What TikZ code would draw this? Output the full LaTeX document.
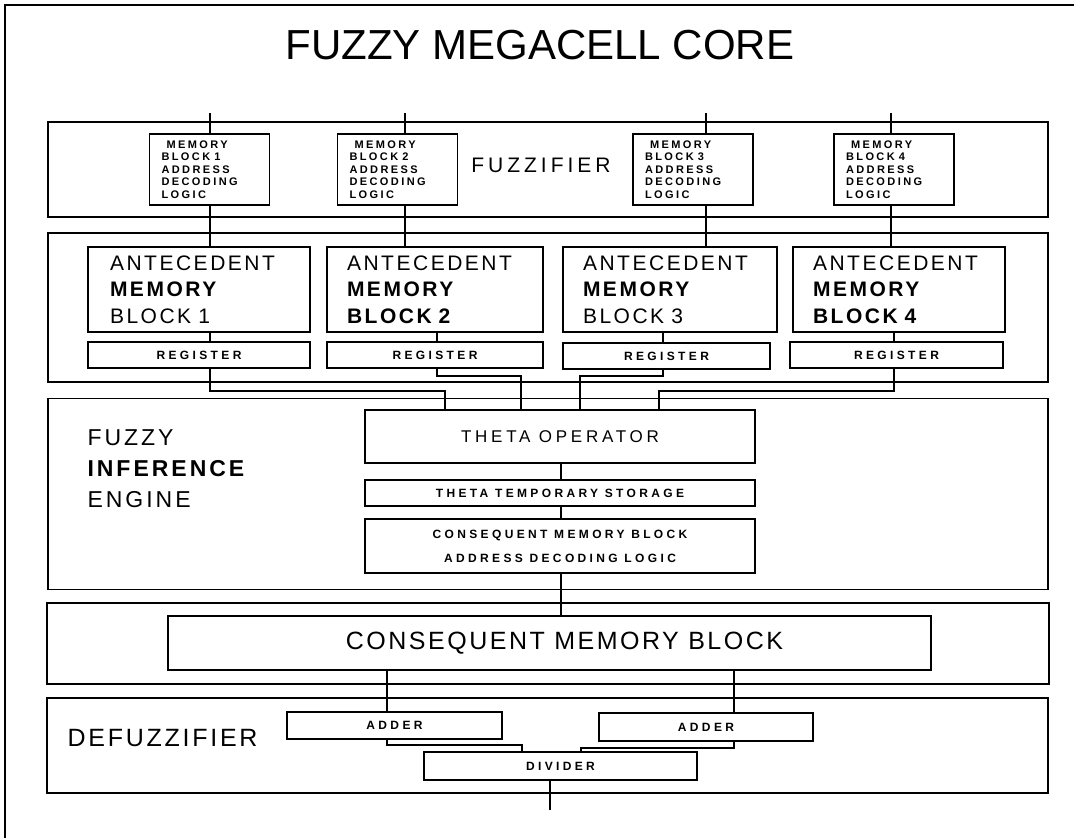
\documentclass[tikz,border=0pt]{standalone}
\usepackage{fontspec}
\setmainfont{Liberation Sans}
\newcommand{\fsz}[2]{\fontsize{#1}{#2}\selectfont}
\newcommand{\wsp}{\hspace{4pt}}
\tikzset{
  frame/.style={draw, line width=1.8pt, rectangle, inner sep=0pt},
  blk/.style={draw, line width=1.8pt, rectangle, inner sep=0pt},
  wire/.style={line width=1.5pt},
  mbadl/.style={blk, minimum width=120pt, minimum height=71pt, text width=96pt, align=left,
    font=\fsz{11}{12.5}\bfseries\addfontfeature{LetterSpace=22}},
  ant/.style={blk, minimum height=85pt, align=left,
    font=\fsz{21}{26.5}\addfontfeature{LetterSpace=12}},
  reg/.style={blk, minimum height=26pt, font=\fsz{12}{14}\bfseries\addfontfeature{LetterSpace=28}},
  small/.style={blk, font=\fsz{12}{24}\bfseries\addfontfeature{LetterSpace=28}, align=center},
  biglabel/.style={font=\fsz{21}{25}\addfontfeature{LetterSpace=19}},
}
\begin{document}
\begin{tikzpicture}[x=1pt,y=-1pt]
\fill[white] (0,0) rectangle (1074,838);
\useasboundingbox (0,0) rectangle (1074,838);
% page frame (top and left edges)
\draw[line width=1.5pt] (5,838) -- (5,5) -- (1074,5);
% title
\node[font=\fsz{42}{48}] (title) at (540,45) {FUZZY MEGACELL CORE};

% ---------------- fuzzifier
\node[frame, minimum width=1000pt, minimum height=95pt] (fz) at (548,169.5) {};
\node[biglabel] (fzl) at (541,165) {FUZZIFIER};
\node[mbadl] (mb1) at (209.5,169.5) {\hspace*{5pt}MEMORY\\BLOCK\wsp 1\\ADDRESS\\DECODING\\LOGIC};
\node[mbadl] (mb2) at (397.5,169.5) {\hspace*{5pt}MEMORY\\BLOCK\wsp 2\\ADDRESS\\DECODING\\LOGIC};
\node[mbadl] (mb3) at (693,169.5) {\hspace*{5pt}MEMORY\\BLOCK\wsp 3\\ADDRESS\\DECODING\\LOGIC};
\node[mbadl] (mb4) at (894,169.5) {\hspace*{5pt}MEMORY\\BLOCK\wsp 4\\ADDRESS\\DECODING\\LOGIC};

% ---------------- antecedent memory
\node[frame, minimum width=1000pt, minimum height=149pt] (an) at (548,307.5) {};
\node[ant, minimum width=222pt, text width=178pt] (am1) at (199,289.5) {ANTECEDENT\\\textbf{MEMORY}\\BLOCK 1};
\node[ant, minimum width=216pt, text width=176pt] (am2) at (435,289.5) {ANTECEDENT\\\textbf{MEMORY}\\\textbf{BLOCK 2}};
\node[ant, minimum width=214pt, text width=174pt] (am3) at (670,289.5) {ANTECEDENT\\\textbf{MEMORY}\\BLOCK 3};
\node[ant, minimum width=212pt, text width=172pt] (am4) at (899,289.5) {ANTECEDENT\\\textbf{MEMORY}\\\textbf{BLOCK 4}};
\node[reg, minimum width=222pt] (rg1) at (199,355) {REGISTER};
\node[reg, minimum width=216pt] (rg2) at (435,355) {REGISTER};
\node[reg, minimum width=207pt] (rg3) at (666.5,356) {REGISTER};
\node[reg, minimum width=213pt] (rg4) at (896.5,355) {REGISTER};

% ---------------- fuzzy inference engine
\node[frame, minimum width=1000pt, minimum height=191pt] (fie) at (548,494) {};
\node[anchor=west, align=left, font=\fsz{23}{31}\addfontfeature{LetterSpace=13}] (fiel) at (84,469) {FUZZY\\\textbf{INFERENCE}\\ENGINE};
\node[blk, minimum width=390pt, minimum height=53pt, font=\fsz{17}{20}\addfontfeature{LetterSpace=22}] (th) at (560,436.5) {THETA OPERATOR};
\node[small, minimum width=390pt, minimum height=26pt] (tmp) at (560,493) {THETA TEMPORARY STORAGE};
\node[small, minimum width=390pt, minimum height=54pt] (cm) at (560,546) {CONSEQUENT MEMORY BLOCK\\ADDRESS DECODING LOGIC};

% ---------------- consequent memory
\node[frame, minimum width=1002pt, minimum height=81pt] (co) at (548,643.5) {};
\node[blk, minimum width=763pt, minimum height=54pt, font=\fsz{25}{30}\addfontfeature{LetterSpace=10}] (cmb) at (549.5,643) {\hspace*{30pt}CONSEQUENT MEMORY BLOCK};

% ---------------- defuzzifier
\node[frame, minimum width=1001pt, minimum height=95pt] (df) at (547.5,745.5) {};
\node[anchor=west, font=\fsz{25}{30}\addfontfeature{LetterSpace=11}] (dfl) at (64,738) {DEFUZZIFIER};
\node[reg, minimum width=215pt, minimum height=27pt] (ad1) at (394.5,725.5) {ADDER};
\node[reg, minimum width=214pt, minimum height=28pt] (ad2) at (706,727) {ADDER};
\node[reg, minimum width=273pt, minimum height=28pt] (dv) at (560.5,766) {DIVIDER};

% ---------------- helper coordinates
\coordinate (t1) at (210,113);
\coordinate (t2) at (405,113);
\coordinate (t3) at (706,113);
\coordinate (t4) at (891,113);
\coordinate (r1) at (210,0);
\coordinate (r2) at (437,0);
\coordinate (r3) at (663,0);
\coordinate (r4) at (894,0);
\coordinate (a1) at (445,0);
\coordinate (a2) at (521,0);
\coordinate (a3) at (580,0);
\coordinate (a4) at (659,0);
\coordinate (c0) at (561,0);
\coordinate (e1) at (387,0);
\coordinate (e2) at (734,0);
\coordinate (d1) at (522,0);
\coordinate (d2) at (581,0);
\coordinate (out) at (550,810);

% ---------------- wires
\foreach \i in {1,2,3,4}{
  \draw[wire] (t\i) -- (t\i |- mb\i.north);
  \draw[wire] (t\i |- mb\i.south) -- (t\i |- am\i.north);
  \draw[wire] (am\i.south -| r\i) -- (rg\i.north -| r\i);
}
\draw[wire] (rg1.south -| r1) -- ++(0,22) -| (th.north -| a1);
\draw[wire] (rg2.south -| r2) -- ++(0,7) -| (th.north -| a2);
\draw[wire] (rg3.south -| r3) -- ++(0,6) -| (th.north -| a3);
\draw[wire] (rg4.south -| r4) -- ++(0,22) -| (th.north -| a4);
\draw[wire] (th.south -| c0) -- (tmp.north -| c0);
\draw[wire] (tmp.south -| c0) -- (cm.north -| c0);
\draw[wire] (cm.south -| c0) -- (cmb.north -| c0);
\draw[wire] (cmb.south -| e1) -- (ad1.north -| e1);
\draw[wire] (cmb.south -| e2) -- (ad2.north -| e2);
\draw[wire] (ad1.south -| e1) -- ++(0,5) -| (dv.north -| d1);
\draw[wire] (ad2.south -| e2) -- ++(0,6) -| (dv.north -| d2);
\draw[wire] (dv.south -| out) -- (out);
\end{tikzpicture}
\end{document}
